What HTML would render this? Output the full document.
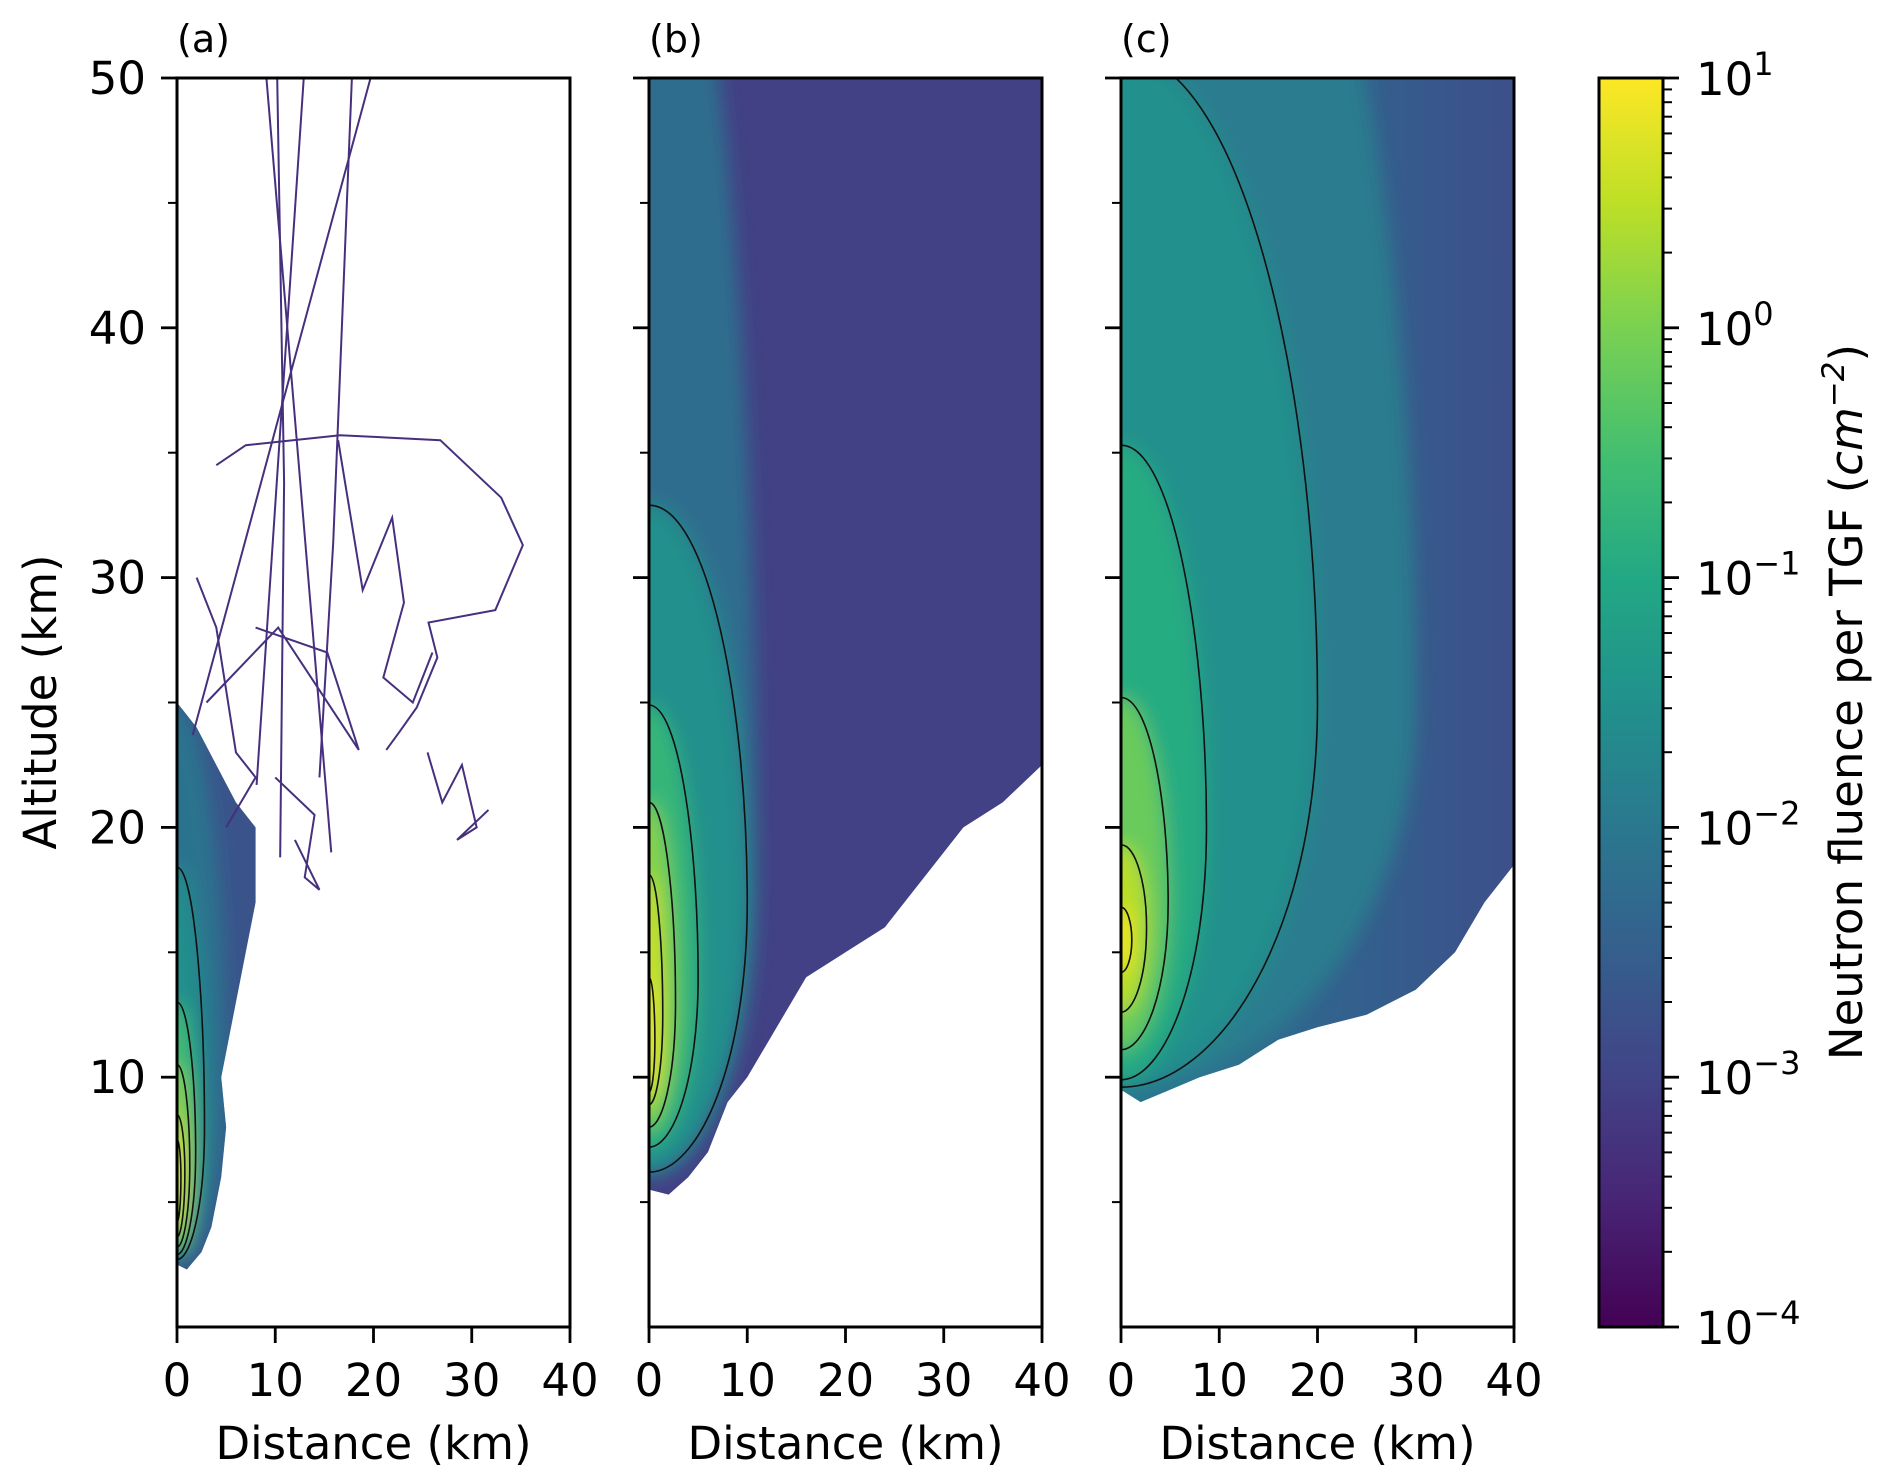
<!DOCTYPE html>
<html><head><meta charset="utf-8">
<style>
html,body{margin:0;padding:0;background:#fff;}
svg{display:block;font-family:"DejaVu Sans","Liberation Sans",sans-serif;}
</style></head>
<body>
<svg id="fig" width="1892" height="1484" viewBox="0 0 1892 1484" xmlns="http://www.w3.org/2000/svg">
<defs>
<filter id="soft" x="-50%" y="-50%" width="200%" height="200%"><feGaussianBlur stdDeviation="9"/></filter>
<linearGradient id="cbgrad" x1="0" y1="1" x2="0" y2="0">
<stop offset="0" stop-color="#440154"/><stop offset="0.1" stop-color="#482475"/><stop offset="0.2" stop-color="#414487"/><stop offset="0.3" stop-color="#355f8d"/><stop offset="0.4" stop-color="#2a788e"/><stop offset="0.5" stop-color="#21918c"/><stop offset="0.6" stop-color="#22a884"/><stop offset="0.7" stop-color="#44bf70"/><stop offset="0.8" stop-color="#7ad151"/><stop offset="0.9" stop-color="#bddf26"/><stop offset="1" stop-color="#fde725"/>
</linearGradient>
<linearGradient id="cgrad" x1="0" y1="0" x2="1" y2="0">
<stop offset="0" stop-color="#2a768e"/><stop offset="0.6" stop-color="#33608d"/><stop offset="1" stop-color="#3d4f8a"/>
</linearGradient>
</defs>
</svg>
<script>
// ---- shared axis data ----
const xTicks = [0, 10, 20, 30, 40];
const yTicks = [10, 20, 30, 40, 50];
const yMinor = [5, 15, 25, 35, 45];
const cbDecades = [-4, -3, -2, -1, 0, 1];
const panelLabels = ["(a)", "(b)", "(c)"];

// ---- panel (a) ----
const aEnvX = [0, 1, 2.5, 3.5, 4.5, 5, 4.5, 6, 7, 8, 8, 6, 4, 2, 0];
const aEnvY = [2.5, 2.3, 3, 4, 6, 8, 10, 13, 15, 17, 20, 21, 22.5, 24, 25];
const aEnvVal = 0.002;
const aGlow = [25, 2.5, 10, 5, 0.008];
const aContTop = [18.4, 13, 10.5, 8.5, 7.5];
const aContBot = [2.7, 2.9, 3.2, 3.6, 4.2];
const aContMid = [8, 7, 6.5, 6.2, 6];
const aContW = [2.8, 1.9, 1.3, 0.8, 0.4];
const aContVal = [0.03, 0.3, 1.5, 4, 8];
const aTracks = [
  [[10.2,50],[10.9,33.8],[10.5,18.8]],
  [[12.9,50],[8.1,21.7]],
  [[17.8,50],[15.9,31.4],[14.5,22]],
  [[19.7,50],[1.6,23.7]],
  [[9.1,50],[15.7,19]],
  [[4,34.5],[7,35.3],[16.6,35.7],[26.8,35.5],[33,33.2],[35.2,31.3],[32.4,28.7],[25.6,28.2],[26.5,26.8],[24.4,24.8],[22.6,23.8],[21.3,23.1]],
  [[16.4,35.5],[18.9,29.5],[21.9,32.4],[23.1,29],[21,26],[24,25],[26,27]],
  [[3,25],[10.3,28],[18.5,23.1],[15.3,27],[8,28]],
  [[25.5,23],[27,21],[29,22.5],[30.5,20],[28.5,19.5],[31.7,20.7]],
  [[10,22],[14,20.5],[13,18],[14.5,17.5],[12,19.5]],
  [[2,30],[4,28],[6,23],[8,22],[5,20]]
];

// ---- panel (b) ----
const bEnvX = [0, 2, 4, 6, 8, 10, 13, 16, 20, 24, 28, 32, 36, 40, 40, 0];
const bEnvY = [5.5, 5.3, 6, 7, 9, 10, 12, 14, 15, 16, 18, 20, 21, 22.5, 50, 50];
const bEnvVal = 0.0009;
const bGlow = [60, 6, 18, 11, 0.006];
const bContTop = [32.9, 24.9, 21, 18.1, 14];
const bContBot = [6.2, 7.2, 8, 8.9, 9.4];
const bContMid = [17, 14, 13, 12.5, 11.5];
const bContW = [10, 5, 2.7, 1.4, 0.6];
const bContVal = [0.03, 0.2, 1.2, 4, 8];

// ---- panel (c) ----
const cEnvX = [0, 2, 5, 8, 12, 16, 20, 25, 30, 34, 37, 40, 40, 0];
const cEnvY = [9.5, 9, 9.5, 10, 10.5, 11.5, 12, 12.5, 13.5, 15, 17, 18.5, 50, 50];
const cEnvVal = 0.003;
const cGlow = [70, 9.5, 25, 30, 0.012];
const cContTop = [51, 35.3, 25.2, 19.3, 16.8];
const cContBot = [9.6, 9.9, 11.1, 12.6, 14.2];
const cContMid = [25, 20, 17, 16, 15.5];
const cContW = [20, 8.7, 4.8, 2.6, 1.1];
const cContVal = [0.03, 0.12, 0.7, 3, 8];

// ---- layout ----
const NS = "http://www.w3.org/2000/svg";
const svg = document.getElementById("fig");
const panelX0 = [177, 649, 1121];
const PW = 393, Y0 = 78, Y1 = 1327;
const CBX = 1599, CBW = 64;
const FS = 45;

const vir = ["#440154","#482475","#414487","#355f8d","#2a788e","#21918c","#22a884","#44bf70","#7ad151","#bddf26","#fde725"];
function hex(h){return [parseInt(h.substr(1,2),16),parseInt(h.substr(3,2),16),parseInt(h.substr(5,2),16)];}
function viridis(v){
  let t=(Math.log10(v)+4)/5; t=Math.max(0,Math.min(1,t));
  const f=t*10, i=Math.min(9,Math.floor(f)), r=f-i;
  const a=hex(vir[i]), b=hex(vir[i+1]);
  return "rgb("+a.map((c,k)=>Math.round(c+(b[k]-c)*r)).join(",")+")";
}
function el(tag, attrs, parent){
  const e=document.createElementNS(NS,tag);
  for(const k in attrs) e.setAttribute(k,attrs[k]);
  (parent||svg).appendChild(e); return e;
}
function Ys(alt){return Y1-(alt/50)*(Y1-Y0);}
function mkX(x0){return km=>x0+(km/40)*PW;}

function levelPath(X, top, bot, mid, w, mirror){
  const c=X(0), wp=X(w)-c, yt=Ys(top), yb=Ys(bot), ym=Ys(mid);
  let d="M"+c+","+yt+" C"+(c+wp*0.6)+","+yt+" "+(c+wp)+","+(ym-(ym-yt)*0.5)+" "+(c+wp)+","+ym+
        " C"+(c+wp)+","+(ym+(yb-ym)*0.6)+" "+(c+wp*0.5)+","+yb+" "+c+","+yb;
  if(mirror){
    d+=" C"+(c-wp*0.5)+","+yb+" "+(c-wp)+","+(ym+(yb-ym)*0.6)+" "+(c-wp)+","+ym+
       " C"+(c-wp)+","+(ym-(ym-yt)*0.5)+" "+(c-wp*0.6)+","+yt+" "+c+","+yt+" Z";
  }
  return d;
}
function polyPath(X, xs, ys){
  return xs.map((x,i)=>(i?"L":"M")+X(x)+","+Ys(ys[i])).join(" ")+" Z";
}

const panels = [
  {env:[aEnvX,aEnvY,aEnvVal], glow:aGlow, ct:aContTop, cb:aContBot, cm:aContMid, cw:aContW, cv:aContVal, tracks:aTracks},
  {env:[bEnvX,bEnvY,bEnvVal], glow:bGlow, ct:bContTop, cb:bContBot, cm:bContMid, cw:bContW, cv:bContVal, tracks:[]},
  {env:[cEnvX,cEnvY,cEnvVal], glow:cGlow, ct:cContTop, cb:cContBot, cm:cContMid, cw:cContW, cv:cContVal, tracks:[], grad:true}
];

const defs = svg.querySelector("defs");
panels.forEach((p, pi) => {
  const x0 = panelX0[pi], X = mkX(x0);
  const cp = el("clipPath", {id:"clip"+pi}, defs);
  el("rect", {x:x0, y:Y0, width:PW, height:Y1-Y0}, cp);
  const envClip = el("clipPath", {id:"env"+pi}, defs);
  el("path", {d:polyPath(X,p.env[0],p.env[1])}, envClip);

  const g = el("g", {"clip-path":"url(#clip"+pi+")"});
  
  

  const env = el("path", {d:polyPath(X,p.env[0],p.env[1]), fill: p.grad ? "url(#cgrad)" : viridis(p.env[2])}, g);
  
  

  const inner = el("g", {"clip-path":"url(#env"+pi+")"}, g);
  const blur = el("g", {filter:"url(#soft)"}, inner);
  const gl = p.glow;
  const glow = el("path", {d:levelPath(X,gl[0],gl[1],gl[2],gl[3],true), fill:viridis(gl[4])}, blur);
  
  
  p.ct.forEach((t,i)=>{
    const f = el("path", {d:levelPath(X,t,p.cb[i],p.cm[i],p.cw[i],true), fill:viridis(p.cv[i])}, blur);
    
    
  });

  p.tracks.forEach((tr,i)=>{
    const d = tr.map((pt,k)=>(k?"L":"M")+X(pt[0])+","+Ys(pt[1])).join(" ");
    const t = el("path", {d:d, fill:"none", stroke:"#46307e", "stroke-width":2}, g);
    
    
  });

  p.ct.forEach((t,i)=>{
    const c = el("path", {d:levelPath(X,t,p.cb[i],p.cm[i],p.cw[i],false), fill:"none", stroke:"#111", "stroke-width":1.6, "clip-path":"url(#env"+pi+")"}, g);
    
    
  });

  const fr = el("rect", {x:x0, y:Y0, width:PW, height:Y1-Y0, fill:"none", stroke:"#000", "stroke-width":3});
  
  

  xTicks.forEach(v=>{
    const tk = el("line", {x1:X(v), x2:X(v), y1:Y1, y2:Y1+16, stroke:"#000", "stroke-width":2.8});
    
    
    const tl = el("text", {x:X(v), y:Y1+69, "font-size":FS, "text-anchor":"middle"});
    tl.textContent = v;
    
    
  });
  const xt = el("text", {x:x0+PW/2, y:1459, "font-size":FS, "text-anchor":"middle"});
  xt.textContent = "Distance (km)";
  
  

  yTicks.forEach(v=>{
    const tk = el("line", {x1:x0-16, x2:x0, y1:Ys(v), y2:Ys(v), stroke:"#000", "stroke-width":2.8});
    
    
    if(pi===0){
      const tl = el("text", {x:x0-31, y:Ys(v)+16, "font-size":FS, "text-anchor":"end"});
      tl.textContent = v;
      
      
    }
  });
  yMinor.forEach(v=>{
    const tk = el("line", {x1:x0-9, x2:x0, y1:Ys(v), y2:Ys(v), stroke:"#000", "stroke-width":2});
    
    
  });

  const pl = el("text", {x:x0, y:52, "font-size":38});
  pl.textContent = panelLabels[pi];
  
  
});

const yt = el("text", {x:0, y:0, "font-size":FS, "text-anchor":"middle", transform:"translate(56,702) rotate(-90)"});
yt.textContent = "Altitude (km)";



const cbar = el("rect", {x:CBX, y:Y0, width:CBW, height:Y1-Y0, fill:"url(#cbgrad)", stroke:"#000", "stroke-width":3});


function Cy(lg){return Y1-((lg+4)/5)*(Y1-Y0);}
cbDecades.forEach(d=>{
  const tk = el("line", {x1:CBX+CBW, x2:CBX+CBW+16, y1:Cy(d), y2:Cy(d), stroke:"#000", "stroke-width":2.8});
  
  
  const tl = el("text", {x:CBX+CBW+33, y:Cy(d)+17, "font-size":FS});
  
  
  tl.textContent = "10";
  const sp = el("tspan", {dy:-20, "font-size":32}, tl);
  sp.textContent = (d<0 ? "\u2212"+(-d) : d);
  if(d<1){
    for(let m=2;m<=9;m++){
      const lg=d+Math.log10(m);
      const mt = el("line", {x1:CBX+CBW, x2:CBX+CBW+9, y1:Cy(lg), y2:Cy(lg), stroke:"#000", "stroke-width":2});
      
      
    }
  }
});
const ct = el("text", {x:0, y:0, "font-size":FS, "text-anchor":"middle", transform:"translate(1862,702) rotate(-90)"});


ct.textContent = "Neutron fluence per TGF (";
const it = el("tspan", {"font-style":"italic"}, ct); it.textContent = "cm";
const sup = el("tspan", {dy:-18, "font-size":31, "font-style":"italic"}, ct); sup.textContent = "\u22122";
const cl = el("tspan", {dy:18}, ct); cl.textContent = ")";
</script>
</body></html>
